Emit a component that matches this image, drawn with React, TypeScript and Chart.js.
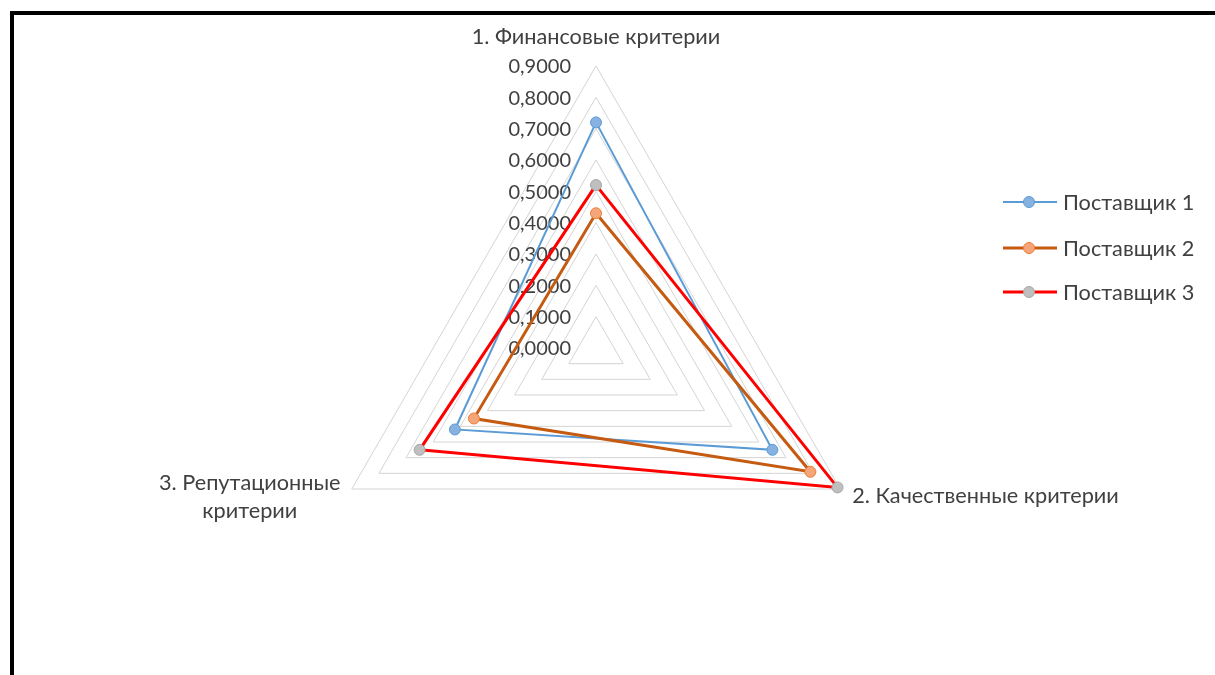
import React, { useEffect, useRef } from "react";
import { Chart, registerables } from "chart.js";

Chart.register(...registerables);

const categories: string[][] = [
  ["1. Финансовые критерии"],
  ["2. Качественные критерии"],
  ["3. Репутационные", "критерии"],
];
const seriesNames = ["Поставщик 1", "Поставщик 2", "Поставщик 3"];
const supplier1 = [0.72, 0.65, 0.52];
const supplier2 = [0.43, 0.79, 0.45];
const supplier3 = [0.52, 0.89, 0.65];
const tickValues = [0, 0.1, 0.2, 0.3, 0.4, 0.5, 0.6, 0.7, 0.8, 0.9];
const tickLabels = ["0,0000", "0,1000", "0,2000", "0,3000", "0,4000", "0,5000", "0,6000", "0,7000", "0,8000", "0,9000"];

const lineColors = ["#5B9BD5", "#C55A11", "#FF0000"];
const markerFills = ["#86B1E0", "#F4A57A", "#BFBFBF"];
const markerBorders = ["#5B9BD5", "#ED7D31", "#A5A5A5"];
const lineWidths = [2, 3, 3];

const FONT = "Lato, 'Open Sans', sans-serif";
const TEXT = "#404040";

const overlay = {
  id: "overlay",
  beforeDatasetsDraw(chart: any) {
    const scale = chart.scales.r;
    const ctx = chart.ctx;
    ctx.save();
    ctx.fillStyle = TEXT;
    ctx.font = `20px ${FONT}`;
    ctx.textAlign = "right";
    ctx.textBaseline = "middle";
    tickValues.forEach((v, i) => {
      const d = scale.getDistanceFromCenterForValue(v);
      ctx.fillText(tickLabels[i], scale.xCenter - 25, scale.yCenter - d + 1);
    });
    ctx.restore();
  },
  afterDraw(chart: any) {
    const scale = chart.scales.r;
    const ctx = chart.ctx;
    ctx.save();
    ctx.fillStyle = TEXT;
    ctx.font = `21.7px ${FONT}`;
    ctx.textBaseline = "middle";
    const R = scale.drawingArea;
    const p0 = scale.getPointPosition(0, R);
    ctx.textAlign = "center";
    ctx.fillText(categories[0][0], p0.x, p0.y - 29);
    const p1 = scale.getPointPosition(1, R);
    ctx.textAlign = "left";
    ctx.fillText(categories[1][0], p1.x + 12, p1.y + 7);
    const p2 = scale.getPointPosition(2, R);
    ctx.textAlign = "center";
    categories[2].forEach((t, i) => {
      ctx.fillText(t, p2.x - 102, p2.y - 6 + i * 28);
    });

    const lx = 1003;
    const ly = [202, 248, 292];
    seriesNames.forEach((name, i) => {
      const y = ly[i];
      ctx.strokeStyle = lineColors[i];
      ctx.lineWidth = lineWidths[i];
      ctx.beginPath();
      ctx.moveTo(lx, y);
      ctx.lineTo(lx + 54, y);
      ctx.stroke();
      ctx.beginPath();
      ctx.arc(lx + 26, y, 5.5, 0, Math.PI * 2);
      ctx.fillStyle = markerFills[i];
      ctx.fill();
      ctx.lineWidth = 1;
      ctx.strokeStyle = markerBorders[i];
      ctx.stroke();
      ctx.fillStyle = TEXT;
      ctx.textAlign = "left";
      ctx.fillText(name, lx + 60, y + 1);
    });
    ctx.restore();
  },
};

export default function App() {
  const ref = useRef<HTMLCanvasElement | null>(null);
  useEffect(() => {
    if (!ref.current) return;
    const series = [supplier1, supplier2, supplier3];
    const chart = new Chart(ref.current, {
      type: "radar",
      data: {
        labels: categories.map((c) => c.join(" ")),
        datasets: series.map((data, i) => ({
          label: seriesNames[i],
          data,
          borderColor: lineColors[i],
          borderWidth: lineWidths[i],
          backgroundColor: "transparent",
          fill: false,
          pointRadius: 5.5,
          pointBorderWidth: 1,
          pointBackgroundColor: markerFills[i],
          pointBorderColor: markerBorders[i],
          order: 3 - i,
        })),
      },
      options: {
        animation: false,
        responsive: false,
        maintainAspectRatio: false,
        layout: { padding: { left: 314, right: 337, top: 66, bottom: 45 } },
        plugins: { legend: { display: false }, tooltip: { enabled: false } },
        scales: {
          r: {
            min: 0,
            max: 0.9,
            ticks: { display: false, stepSize: 0.1 },
            grid: { color: "#D4D4D4", lineWidth: 1 },
            angleLines: { display: false },
            pointLabels: { display: false },
          },
        },
      },
      plugins: [overlay],
    });
    return () => chart.destroy();
  }, []);
  return (
    <div style={{ position: "fixed", left: 0, top: 0, width: 1215, height: 675, background: "#fff" }}>
      <canvas ref={ref} width={1215} height={675} style={{ position: "absolute", left: 0, top: 0 }} />
      <div
        style={{
          position: "absolute",
          left: 10,
          top: 11,
          right: 0,
          bottom: 0,
          borderTop: "4px solid #000",
          borderLeft: "4px solid #000",
          pointerEvents: "none",
        }}
      />
    </div>
  );
}
